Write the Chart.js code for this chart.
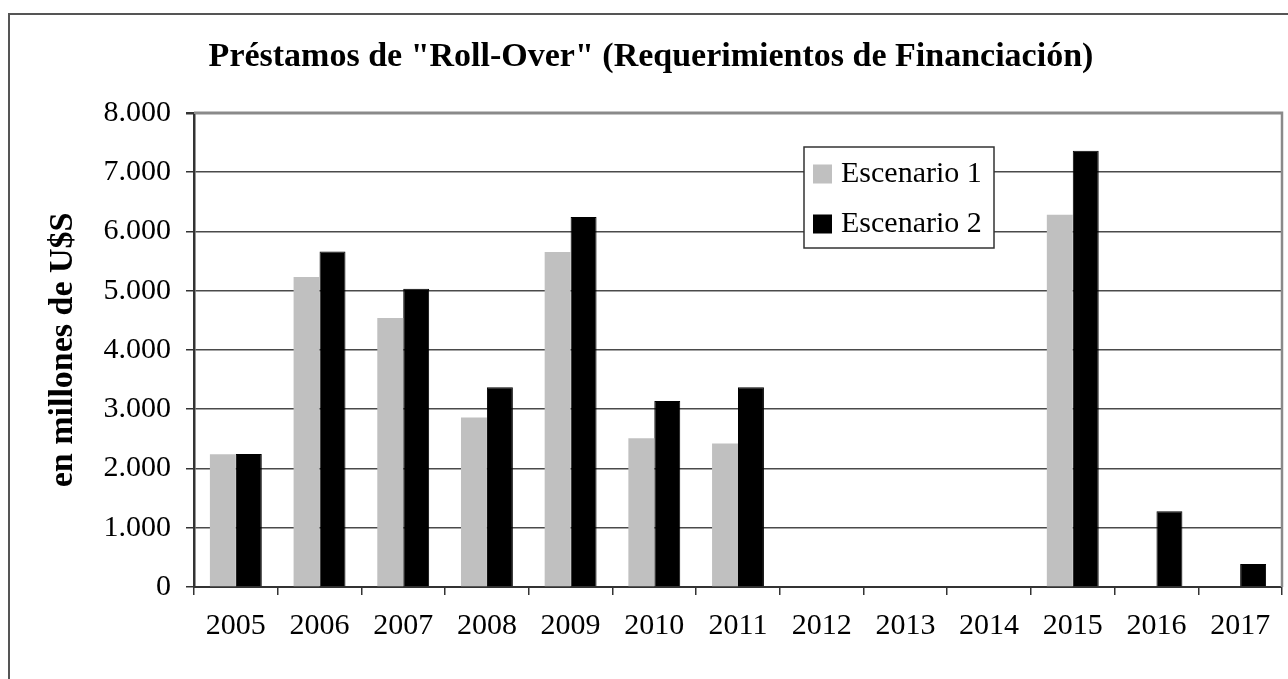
<!DOCTYPE html>
<html>
<head>
<meta charset="utf-8">
<title>Préstamos de "Roll-Over"</title>
<script src="https://cdn.jsdelivr.net/npm/chart.js@4"></script>
<style>
    html, body { margin: 0; padding: 0; background: #fff; }
    canvas { display: block; }
</style>
</head>
<body>
<canvas id="rollOverChart" width="1288" height="679"></canvas>
<script>
let years = ['2005', '2006', '2007', '2008', '2009', '2010', '2011', '2012', '2013', '2014', '2015', '2016', '2017'];
let escenario1 = [2240, 5230, 4540, 2860, 5650, 2510, 2420, null, null, null, 6280, null, null];
let escenario2 = [2245, 5660, 5030, 3370, 6240, 3140, 3370, null, null, null, 7360, 1280, 390];
let yTicks = [0, 1000, 2000, 3000, 4000, 5000, 6000, 7000, 8000];

let serif = "'Liberation Serif', 'Times New Roman', serif";


function formatThousands(value) {
    return String(value).replace(/\B(?=(\d{3})+(?!\d))/g, '.');
}


// outer frame + top/right plot border + boxed legend
const frameAndLegend = {
    id: 'frameAndLegend',
    beforeDraw(chart) {
        let ctx = chart.ctx;
        ctx.save();
        ctx.strokeStyle = '#555';
        ctx.lineWidth = 2;
        ctx.beginPath();
        ctx.moveTo(9, chart.height);
        ctx.lineTo(9, 14);
        ctx.lineTo(chart.width, 14);
        ctx.stroke();
        ctx.restore();
    },
    afterDraw(chart) {
        let ctx = chart.ctx;
        let area = chart.chartArea;
        ctx.save();
        ctx.strokeStyle = '#8a8a8a';
        ctx.lineWidth = 2.5;
        ctx.beginPath();
        ctx.moveTo(area.left, area.top);
        ctx.lineTo(area.right, area.top);
        ctx.lineTo(area.right, area.bottom);
        ctx.stroke();

        // legend box
        let box = { x: 804, y: 147, w: 190, h: 101 };
        ctx.fillStyle = '#fff';
        ctx.fillRect(box.x, box.y, box.w, box.h);
        ctx.strokeStyle = '#333';
        ctx.lineWidth = 1.5;
        ctx.strokeRect(box.x, box.y, box.w, box.h);

        ctx.font = '30px ' + serif;
        ctx.textBaseline = 'middle';
        ctx.textAlign = 'left';
        chart.data.datasets.forEach((ds, i) => {
            let cy = 174 + i * 50;
            ctx.fillStyle = ds.backgroundColor;
            ctx.fillRect(813, cy - 9.5, 19, 19);
            ctx.fillStyle = '#000';
            ctx.fillText(ds.label, 841, cy);
        });
        ctx.restore();
    }
};


let rollOverChart = new Chart('rollOverChart', {
    type: 'bar',
    data: {
        labels: years,
        datasets: [{
            label: 'Escenario 1',
            data: escenario1,
            backgroundColor: '#c0c0c0',
            borderWidth: 0
        }, {
            label: 'Escenario 2',
            data: escenario2,
            backgroundColor: '#000000',
            borderColor: '#000000',
            borderWidth: 1
        }]
    },
    options: {
        responsive: false,
        animation: false,
        devicePixelRatio: 1,
        layout: { padding: { left: 20, right: 6, top: 0, bottom: 0 } },
        datasets: {
            bar: { categoryPercentage: 0.62, barPercentage: 1.0 }
        },
        plugins: {
            legend: { display: false },
            tooltip: { enabled: false },
            title: {
                display: true,
                text: 'Préstamos de "Roll-Over" (Requerimientos de Financiación)',
                color: '#000',
                font: { family: serif, size: 34, weight: 'bold', lineHeight: 1.2 },
                padding: { top: 37, bottom: 35 }
            }
        },
        scales: {
            x: {
                offset: true,
                afterFit: (scale) => { scale.height = 92; },
                grid: {
                    display: true,
                    offset: true,
                    drawOnChartArea: false,
                    drawTicks: true,
                    tickLength: 8,
                    color: '#333',
                    lineWidth: 1.5
                },
                border: { color: '#333', width: 2 },
                ticks: {
                    color: '#000',
                    font: { family: serif, size: 30 },
                    padding: 13,
                    maxRotation: 0,
                    autoSkip: false
                }
            },
            y: {
                min: 0,
                max: 8000,
                afterFit: (scale) => { scale.width = 174; },
                afterBuildTicks: (scale) => { scale.ticks = yTicks.map(v => ({ value: v })); },
                grid: {
                    color: (c) => c.tick && c.tick.value === 8000 ? '#8a8a8a' : '#4a4a4a',
                    lineWidth: (c) => c.tick && c.tick.value === 8000 ? 2.5 : 1.5,
                    tickColor: '#333',
                    tickLength: 8,
                    drawTicks: true
                },
                border: { color: '#333', width: 2.5 },
                ticks: {
                    color: '#000',
                    font: { family: serif, size: 30 },
                    padding: 15,
                    callback: (value) => formatThousands(value)
                },
                title: {
                    display: true,
                    text: 'en millones de U$S',
                    color: '#000',
                    font: { family: serif, size: 34, weight: 'bold', lineHeight: 1.2 },
                    padding: { top: 23, bottom: 0 }
                }
            }
        }
    },
    plugins: [frameAndLegend]
});
</script>
</body>
</html>
